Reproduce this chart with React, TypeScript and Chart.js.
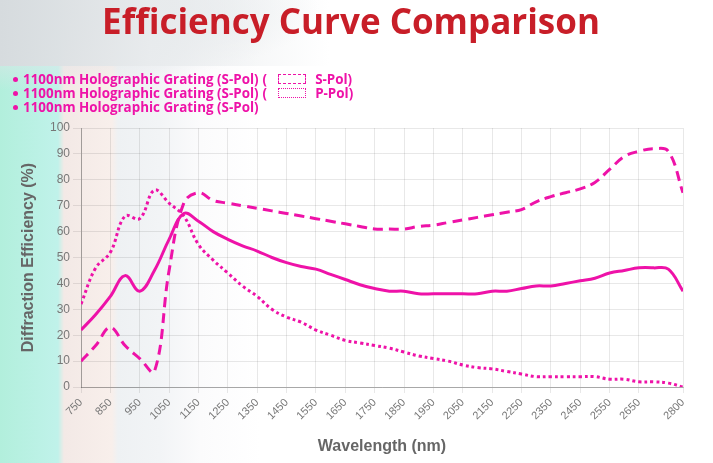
import React, { useEffect, useRef } from "react";
import { Chart, registerables } from "chart.js";

Chart.register(...registerables);

const wavelengths = [
  750, 800, 850, 900, 950, 1000, 1050, 1100, 1150, 1200, 1250, 1300, 1350, 1400,
  1450, 1500, 1550, 1600, 1650, 1700, 1750, 1800, 1850, 1900, 1950, 2000, 2050,
  2100, 2150, 2200, 2250, 2300, 2350, 2400, 2450, 2500, 2550, 2600, 2650, 2700,
  2750, 2800,
];

const sPolDashed = [
  10, 16, 23, 16, 11, 6, 45, 71, 75, 72, 71, 70, 69, 68, 67, 66, 65, 64, 63, 62,
  61, 61, 61, 62, 62.5, 63.5, 64.5, 65.5, 66.5, 67.5, 68.5, 71.5, 73.5, 75, 76.5,
  79, 84, 89, 91, 92, 91, 75,
];

const pPolDotted = [
  32, 46, 52, 66, 65, 76, 71, 66, 55, 49, 44, 39, 35, 30, 27, 25, 22, 20, 18, 17,
  16, 15, 13.5, 12, 11, 10, 8.5, 7.5, 7, 6, 5, 4, 4, 4, 4, 4, 3, 3, 2, 2, 1.5, 0,
];

const sPolSolid = [
  22, 28, 35, 43, 37, 45, 57, 67, 64, 60, 57, 54.5, 52.5, 50, 48, 46.5, 45.5, 43.5,
  41.5, 39.5, 38, 37, 37, 36, 36, 36, 36, 36, 37, 37, 38, 39, 39, 40, 41, 42, 44,
  45, 46, 46, 45.5, 37,
];

const xTickValues = [
  750, 850, 950, 1050, 1150, 1250, 1350, 1450, 1550, 1650, 1750, 1850, 1950, 2050,
  2150, 2250, 2350, 2450, 2550, 2650, 2800,
];

const seriesNames = [
  "1100nm Holographic Grating (S-Pol)",
  "1100nm Holographic Grating (S-Pol)",
  "1100nm Holographic Grating (S-Pol)",
];
const legendSuffixes = ["S-Pol)", "P-Pol)", ""];

const chartTitle = "Efficiency Curve Comparison";
const xTitle = "Wavelength (nm)";
const yTitle = "Diffraction Efficiency (%)";

const MAGENTA = "rgb(238, 18, 168)";

export default function App() {
  const canvasRef = useRef<HTMLCanvasElement | null>(null);

  useEffect(() => {
    if (!canvasRef.current) return;
    const mk = (vals: number[]) => wavelengths.map((x, i) => ({ x, y: vals[i] }));
    const chart = new Chart(canvasRef.current, {
      type: "line",
      data: {
        datasets: [
          {
            label: seriesNames[0] + " ( " + legendSuffixes[0],
            data: mk(sPolDashed),
            borderColor: MAGENTA,
            backgroundColor: MAGENTA,
            borderWidth: 3,
            borderDash: [10, 6],
            pointRadius: 0,
            tension: 0.4,
            fill: false,
          },
          {
            label: seriesNames[1] + " ( " + legendSuffixes[1],
            data: mk(pPolDotted),
            borderColor: MAGENTA,
            backgroundColor: MAGENTA,
            borderWidth: 3,
            borderDash: [3, 3],
            pointRadius: 0,
            tension: 0.4,
            fill: false,
          },
          {
            label: seriesNames[2],
            data: mk(sPolSolid),
            borderColor: MAGENTA,
            backgroundColor: MAGENTA,
            borderWidth: 3,
            pointRadius: 0,
            tension: 0.4,
            fill: false,
          },
        ],
      },
      options: {
        animation: false,
        responsive: true,
        maintainAspectRatio: false,
        layout: { padding: { top: 128, right: 30, left: 0, bottom: 0 } },
        plugins: {
          legend: { display: false },
          tooltip: { enabled: false },
          title: { display: false },
        },
        scales: {
          x: {
            type: "linear",
            min: 750,
            max: 2800,
            afterBuildTicks: (scale: any) => {
              scale.ticks = xTickValues.map((v) => ({ value: v }));
            },
            afterFit: (scale: any) => {
              scale.height = 76;
            },
            ticks: {
              autoSkip: false,
              minRotation: 45,
              maxRotation: 45,
              color: "#777",
              font: { family: "'Liberation Sans', Arial, sans-serif", size: 11 },
              callback: (v: any) => String(v),
            },
            grid: { color: "rgba(0,0,0,0.09)", tickLength: 6 },
            border: { color: "rgba(0,0,0,0.28)" },
            title: {
              display: true,
              text: xTitle,
              color: "#666",
              font: { family: "'Liberation Sans', Arial, sans-serif", size: 16, weight: "bold" },
              padding: { top: 0, bottom: 7 },
            },
          },
          y: {
            min: 0,
            max: 100,
            afterFit: (scale: any) => {
              scale.width = 81;
            },
            ticks: {
              stepSize: 10,
              color: "#777",
              font: { family: "'Liberation Sans', Arial, sans-serif", size: 12 },
            },
            grid: { color: "rgba(0,0,0,0.09)", tickLength: 8 },
            border: { color: "rgba(0,0,0,0.28)" },
            title: {
              display: true,
              text: yTitle,
              color: "#666",
              font: { family: "'Liberation Sans', Arial, sans-serif", size: 16, weight: "bold" },
              padding: { top: 19, bottom: 0 },
            },
          },
        },
      },
    });
    return () => chart.destroy();
  }, []);

  const legendFont = "'Open Sans', 'Noto Sans', sans-serif";

  return (
    <div
      style={{
        position: "fixed",
        left: 0,
        top: 0,
        width: 713,
        height: 463,
        overflow: "hidden",
        background:
          "radial-gradient(ellipse 320px 80px at 0px 10px, rgba(205,212,216,0.95), rgba(225,229,232,0.6) 60%, rgba(255,255,255,0) 100%)," +
          "linear-gradient(to right, #b2efdc 0px, #c0f2ea 58px, #f3e9e6 64px, #f8efeb 112px, #eef1f3 118px, #f2f4f6 160px, #fbfbfc 200px, #ffffff 260px)",
      }}
    >
      <div
        style={{
          position: "absolute",
          left: 0,
          top: 0,
          width: 713,
          height: 66,
          background: "linear-gradient(to right, rgba(214,219,222,1) 0px, rgba(232,235,237,0.9) 150px, rgba(255,255,255,0) 330px)",
        }}
      />
      <div style={{ position: "absolute", left: 0, top: 0, width: 713, height: 463 }}>
        <canvas ref={canvasRef} />
      </div>
      <div
        style={{
          position: "absolute",
          left: 0,
          top: -3,
          width: 702,
          textAlign: "center",
          fontFamily: legendFont,
          fontWeight: 700,
          fontSize: 35,
          color: "rgb(200, 30, 40)",
          whiteSpace: "nowrap",
        }}
      >
        {chartTitle}
      </div>
      <div
        style={{
          position: "absolute",
          left: 13,
          top: 72,
          fontFamily: legendFont,
          fontWeight: 700,
          fontSize: 13.4,
          lineHeight: "14px",
          color: MAGENTA,
          whiteSpace: "nowrap",
        }}
      >
        {seriesNames.map((name, i) => (
          <div key={i} style={{ display: "flex", alignItems: "center", height: 14 }}>
            <span
              style={{
                display: "inline-block",
                width: 5,
                height: 5,
                borderRadius: 3,
                background: MAGENTA,
                marginRight: 5,
              }}
            />
            <span>{name}</span>
            {legendSuffixes[i] ? (
              <>
                <span style={{ marginLeft: 4 }}>(</span>
                <span
                  style={{
                    display: "inline-block",
                    width: 26,
                    height: 8,
                    border: `1.5px ${i === 0 ? "dashed" : "dotted"} ${MAGENTA}`,
                    marginLeft: 11,
                    marginRight: 9,
                  }}
                />
                <span>{legendSuffixes[i]}</span>
              </>
            ) : null}
          </div>
        ))}
      </div>
    </div>
  );
}
